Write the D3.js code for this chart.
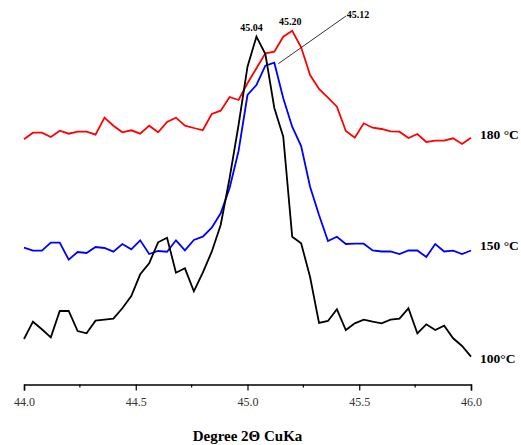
<!DOCTYPE html>
<html><head><meta charset="utf-8">
<script src="https://cdn.jsdelivr.net/npm/d3@7"></script>
<style>body{margin:0;background:#fff}svg{display:block}</style>
</head><body>
<svg id="c" width="521" height="445"></svg>
<script>
// 2θ from 44.00 to 46.00, step 0.04
const angles = d3.range(51).map(i => +(44 + i * 0.04).toFixed(2));
// intensities (arbitrary units)
const s180 = [244.7,251.3,251.3,247,253.3,250.3,252.3,252.3,249.3,266.3,258.3,251.7,253.7,250.3,258.3,251.7,262,266.3,258.3,256,253.7,270,273.3,287,284,300.7,315.7,330.7,332.3,347.3,353.3,336.7,309,295,286.3,277.3,253,246.3,260.7,256.3,255,252.7,252.3,246,250,242,243.3,243.3,245.7,240,246.3];
const s150 = [136.3,133.3,133.3,141.3,141.3,124.3,132,131,137,136,132.3,140,134.7,143.7,130,133,132.3,143.7,133.7,144,147.3,156.3,170.7,196,233,289,299,318.3,321.3,285.7,257.3,238,197.3,169,143,147.3,140,140.3,140.3,133.5,132.5,132.5,130,133.5,133.5,127,140,132.5,133.3,130,133.5];
const s100 = [45,62.3,54.7,46.7,73,73,53,50.7,63.3,64.3,65.3,75.7,88,109.7,120.7,141.7,146.3,111.3,115.7,92.7,111.3,132.3,159,206,259,317.3,347.3,330,276,247.3,147.3,140.7,107,61,63,74.7,54,60.7,64.3,62.3,60.7,64.3,65.3,75.7,50.7,59.7,54,58.3,45.7,38,27.3];
const seriesNames = ["180 °C", "150 °C", "100°C"];
const seriesColors = ["#ff0000", "#0000ff", "#000000"];
const peakLabels = ["45.04", "45.20", "45.12"];
const xTicks = [44.0, 44.5, 45.0, 45.5, 46.0];
const xMinor = [44.25, 44.75, 45.25, 45.75];

const svg = d3.select("#c");
const x = d3.scaleLinear().domain([44, 46]).range([24, 471]);
const y = d3.scaleLinear().domain([0, 384]).range([384, 0]);
const serif = "'Liberation Serif','Times New Roman',serif";

const series = [s180, s150, s100];
const line = d3.line().x((d, i) => x(angles[i])).y(d => y(d));
series.forEach((s, k) => {
  svg.append("path").datum(s).attr("d", line)
    .attr("fill", "none").attr("stroke", seriesColors[k])
    .attr("stroke-width", 1.8).attr("stroke-linejoin", "miter");
});

// series labels at right
series.forEach((s, k) => {
  svg.append("text").attr("x", 480).attr("y", [139, 250, 363][k])
    .attr("font-family", serif).attr("font-weight", "bold").attr("font-size", 13.5)
    .attr("fill", "#000").text(seriesNames[k]);
});

// peak labels
svg.append("text").attr("x", x(45.04) - 5).attr("y", 30.5).attr("text-anchor", "middle")
  .attr("font-family", serif).attr("font-weight", "bold").attr("font-size", 10).text(peakLabels[0]);
svg.append("text").attr("x", x(45.20) - 2).attr("y", 25).attr("text-anchor", "middle")
  .attr("font-family", serif).attr("font-weight", "bold").attr("font-size", 10).text(peakLabels[1]);
svg.append("text").attr("x", 358).attr("y", 18).attr("text-anchor", "middle")
  .attr("font-family", serif).attr("font-weight", "bold").attr("font-size", 10).text(peakLabels[2]);
svg.append("line").attr("x1", x(45.12) + 4).attr("y1", y(s150[28]) + 1)
  .attr("x2", 346).attr("y2", 16).attr("stroke", "#000").attr("stroke-width", 0.8);

// x axis
const axis = svg.append("g").attr("transform", "translate(0,384.5)");
axis.call(d3.axisBottom(x).tickValues(xTicks).tickFormat(d3.format(".1f")).tickSize(6).tickPadding(7));
axis.selectAll(".tick text").attr("font-family", serif).attr("font-size", 12).attr("fill", "#333");
axis.select(".domain").attr("stroke", "#000").attr("stroke-width", 1.5);
axis.selectAll(".tick line").attr("stroke", "#000").attr("stroke-width", 1.2);
axis.selectAll(".minor").data(xMinor).enter().append("line").attr("class", "minor")
  .attr("x1", d => x(d)).attr("x2", d => x(d)).attr("y1", 0).attr("y2", 3)
  .attr("stroke", "#000").attr("stroke-width", 1.2);

svg.append("text").attr("x", 247.5).attr("y", 441).attr("text-anchor", "middle")
  .attr("font-family", serif).attr("font-weight", "bold").attr("font-size", 15)
  .text("Degree 2Θ CuKa");
</script>
</body></html>
